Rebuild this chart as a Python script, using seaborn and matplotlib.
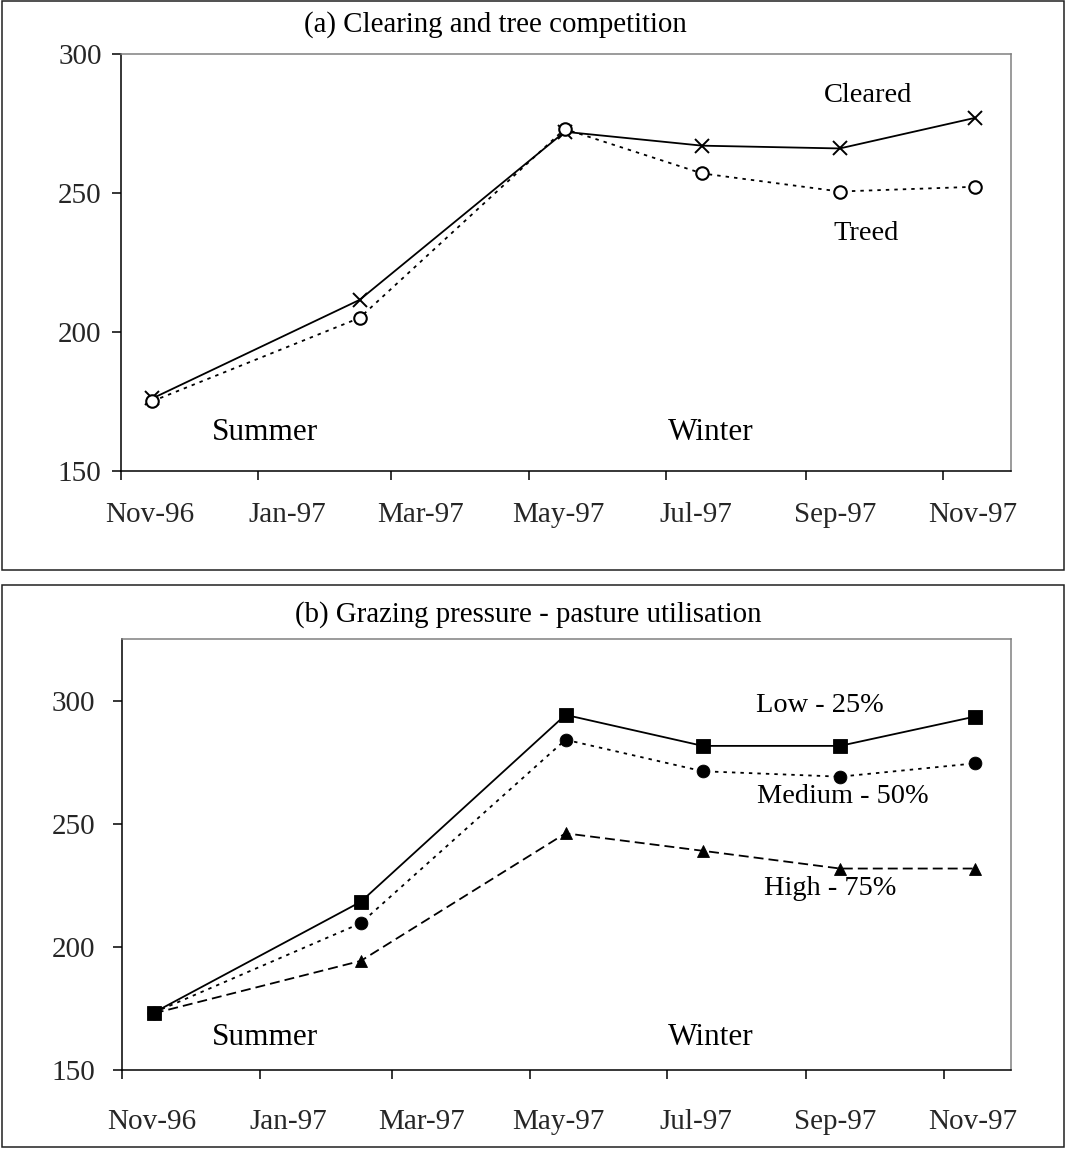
import numpy as np
import pandas as pd
import matplotlib
matplotlib.use("Agg")
import matplotlib.pyplot as plt
import matplotlib.dates as mdates
from matplotlib.patches import Rectangle
import seaborn as sns

# ---------------- data ----------------
sample_dates = ["1996-11-15", "1997-02-15", "1997-05-17",
                "1997-07-17", "1997-09-16", "1997-11-15"]
cleared = [176.0, 211.5, 272.0, 267.0, 266.0, 277.0]
treed = [175.0, 205.0, 273.0, 257.0, 250.5, 252.2]
low_25 = [173.3, 218.3, 294.2, 281.6, 281.6, 293.5]
medium_50 = [173.3, 209.6, 284.1, 271.3, 269.1, 274.5]
high_75 = [173.0, 194.3, 246.1, 239.0, 231.8, 231.8]

y_ticks = [150, 200, 250, 300]
ylim_a = (150, 300)
ylim_b = (150, 325)
xlim_dates = ("1996-11-01", "1997-12-01")
tick_months = [1, 3, 5, 7, 9, 11]

title_a = "(a) Clearing and tree competition"
title_b = "(b) Grazing pressure - pasture utilisation"

df_a = pd.DataFrame({"date": pd.to_datetime(sample_dates),
                     "Cleared": cleared, "Treed": treed})
df_b = pd.DataFrame({"date": pd.to_datetime(sample_dates),
                     "Low": low_25, "Medium": medium_50, "High": high_75})

# ---------------- style ----------------
sns.set_theme(style="ticks")
plt.rcParams["font.family"] = ["Liberation Serif", "DejaVu Serif"]

W, H = 1066, 1149
fig = plt.figure(figsize=(W / 100, H / 100), dpi=100)
fig.patch.set_facecolor("white")


def px_axes(l, r, t, b):
    return fig.add_axes([l / W, 1 - b / H, (r - l) / W, (b - t) / H])


def ftext(x, y, s, size, ha="center"):
    fig.text(x / W, 1 - y / H, s, fontsize=size, ha=ha, va="baseline",
             color="black")


# outer boxes
for (t, b) in [(1, 570), (585, 1147)]:
    fig.patches.append(Rectangle((1.5 / W, 1 - b / H), 1062 / W, (b - t) / H,
                                 transform=fig.transFigure, fill=False,
                                 edgecolor="#202020", linewidth=1.1))

ax_a = px_axes(120.7, 1011, 54, 470.7)
ax_b = px_axes(122.3, 1011, 639, 1070)

LW = 1.3
dot_style = (0, (1.9, 2.8))
dash_style = (0, (5.5, 2.8))

# panel (a)
sns.lineplot(data=df_a, x="date", y="Cleared", ax=ax_a, color="black",
             linewidth=LW, linestyle="-", marker="x", markersize=9.5,
             markeredgewidth=1.4, markeredgecolor="black")
sns.lineplot(data=df_a, x="date", y="Treed", ax=ax_a, color="black",
             linewidth=LW, linestyle=dot_style, marker="o", markersize=9,
             markeredgewidth=1.5, markeredgecolor="black",
             markerfacecolor="white")

# panel (b)
sns.lineplot(data=df_b, x="date", y="Low", ax=ax_b, color="black",
             linewidth=LW, linestyle="-", marker="s", markersize=9.5,
             markeredgewidth=0.6, markeredgecolor="black")
sns.lineplot(data=df_b, x="date", y="Medium", ax=ax_b, color="black",
             linewidth=LW, linestyle=dot_style, marker="o", markersize=9.2,
             markeredgewidth=0.6, markeredgecolor="black")
sns.lineplot(data=df_b, x="date", y="High", ax=ax_b, color="black",
             linewidth=LW, linestyle=dash_style, marker="^", markersize=9.2,
             markeredgewidth=0.6, markeredgecolor="black")

for ax, ylim, ypad, xpad in [(ax_a, ylim_a, 7.2, 22.3), (ax_b, ylim_b, 13.0, 28.0)]:
    ax.set_facecolor("white")
    ax.set_xlim(pd.to_datetime(xlim_dates[0]), pd.to_datetime(xlim_dates[1]))
    ax.set_ylim(*ylim)
    ax.set_yticks(y_ticks)
    ax.xaxis.set_major_locator(mdates.MonthLocator(bymonth=tick_months, bymonthday=1))
    ax.xaxis.set_major_formatter(plt.NullFormatter())
    ax.xaxis.set_minor_locator(mdates.MonthLocator(bymonth=tick_months, bymonthday=14))
    ax.xaxis.set_minor_formatter(mdates.DateFormatter("%b-%y"))
    ax.tick_params(axis="x", which="major", direction="out", length=6.5,
                   width=1.1, color="black")
    ax.tick_params(axis="x", which="minor", length=0, pad=xpad, labelsize=21)
    ax.tick_params(axis="y", direction="out", length=6.5, width=1.1,
                   color="black", pad=ypad, labelsize=21)
    ax.set_xlabel("")
    ax.set_ylabel("")
    for side in ["left", "bottom"]:
        ax.spines[side].set_color("black")
        ax.spines[side].set_linewidth(1.1)
    for side in ["top", "right"]:
        ax.spines[side].set_visible(True)
        ax.spines[side].set_color("#808080")
        ax.spines[side].set_linewidth(1.1)
    ax.grid(False)

# titles
ftext(495, 31.8, title_a, 20.8)
ftext(528.5, 622, title_b, 20.8)

# panel (a) annotations
ftext(867.7, 101.7, "Cleared", 20.5)
ftext(866, 240, "Treed", 20.5)
ftext(265, 440, "Summer", 22.5)
ftext(710.5, 440, "Winter", 22.5)

# panel (b) annotations
ftext(820, 711.7, "Low - 25%", 20.4)
ftext(842.5, 803, "Medium - 50%", 20.4)
ftext(830, 895, "High - 75%", 20.4)
ftext(265, 1045, "Summer", 22.5)
ftext(710.5, 1045, "Winter", 22.5)

fig.savefig("out.png", dpi=100, facecolor="white")
